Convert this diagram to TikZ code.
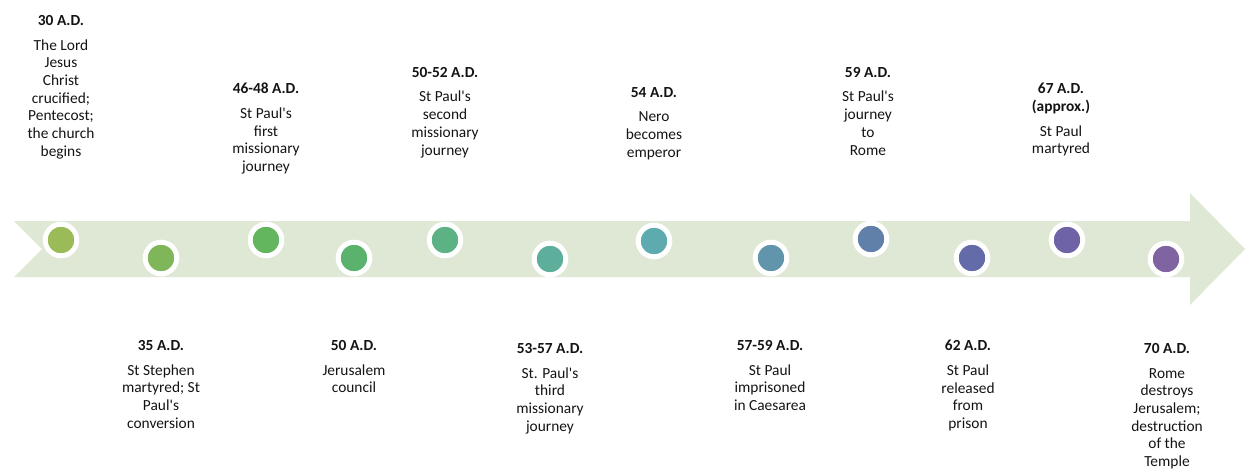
\documentclass[tikz,border=0pt]{standalone}
\usepackage{fontspec}
\setmainfont{Carlito}
\usepackage{tikz}
\usetikzlibrary{shapes}
\definecolor{band}{RGB}{222,232,213}
\definecolor{ink}{RGB}{20,20,20}
\definecolor{cA}{HTML}{9BBB59}
\definecolor{cB}{HTML}{80B65A}
\definecolor{cC}{HTML}{63B55E}
\definecolor{cD}{HTML}{5BB26D}
\definecolor{cE}{HTML}{5CB284}
\definecolor{cF}{HTML}{5DAF9B}
\definecolor{cG}{HTML}{5EABAF}
\definecolor{cH}{HTML}{6095AC}
\definecolor{cI}{HTML}{6180A9}
\definecolor{cJ}{HTML}{636BA8}
\definecolor{cK}{HTML}{6E63A7}
\definecolor{cL}{HTML}{8064A2}
\newcommand\ap{\textquotesingle}
\tikzset{
  dot/.style={circle, draw=white, line width=5pt, minimum size=31.6pt, inner sep=0pt, fill=#1},
  evt/.style={anchor=north, align=center, inner sep=0pt, text=ink,
    font=\fontsize{15.4}{17.7}\selectfont},
}

\begin{document}
\begin{tikzpicture}[x=1pt, y=-1pt]

  \useasboundingbox (0,0) rectangle (1245,471);

  \newcommand\Up{249};
  \newcommand\Lo{340};

  % the band with its arrow head
  \fill[band] (14,221) -- (1190,221) -- (1190,193) -- (1245,\Up) -- (1190,305)
    -- (1190,277) -- (14,277) -- (42,\Up) -- cycle;

  \node[dot=cA] (e1) at (61,240) {};
  \node[dot=cB] (e2) at (161,258) {};
  \node[dot=cC] (e3) at (266,240) {};
  \node[dot=cD] (e4) at (354,258) {};
  \node[dot=cE] (e5) at (445,240) {};
  \node[dot=cF] (e6) at (550,259) {};
  \node[dot=cG] (e7) at (654,241) {};
  \node[dot=cH] (e8) at (771,258) {};
  \node[dot=cI] (e9) at (871,239) {};
  \node[dot=cJ] (e10) at (972,258) {};
  \node[dot=cK] (e11) at (1067,240) {};
  \node[dot=cL] (e12) at (1166,259) {};

  % above the band
  \node[evt] (t1) at (61,15) {\textbf{30 A.D.}\\[7pt] The Lord\\ Jesus\\ Christ\\ crucified;\\ Pentecost;\\ the church\\ begins};
  \node[evt] (t3) at (266,83) {\textbf{46-48 A.D.}\\[7pt] St Paul\ap s\\ first\\ missionary\\ journey};
  \node[evt] (t5) at (445,67) {\textbf{50-52 A.D.}\\[7pt] St Paul\ap s\\ second\\ missionary\\ journey};
  \node[evt] (t7) at (654,87) {\textbf{54 A.D.}\\[7pt] Nero\\ becomes\\ emperor};
  \node[evt] (t9) at (868,67) {\textbf{59 A.D.}\\[7pt] St Paul\ap s\\ journey\\ to\\ Rome};
  \node[evt] (t11) at (1061,83) {\textbf{67 A.D.}\\ \textbf{(approx.)}\\[7pt] St Paul\\ martyred};

  % below the band
  \node[evt] (t2) at (161,\Lo) {\textbf{35 A.D.}\\[7pt] St Stephen\\ martyred; St\\ Paul\ap s\\ conversion};
  \node[evt] (t4) at (354,\Lo) {\textbf{50 A.D.}\\[7pt] Jerusalem\\ council};
  \node[evt] (t6) at (550,343) {\textbf{53-57 A.D.}\\[7pt] St. Paul\ap s\\ third\\ missionary\\ journey};
  \node[evt] (t8) at (770,\Lo) {\textbf{57-59 A.D.}\\[7pt] St Paul\\ imprisoned\\ in Caesarea};
  \node[evt] (t10) at (968,\Lo) {\textbf{62 A.D.}\\[7pt] St Paul\\ released\\ from\\ prison};
  \node[evt] (t12) at (1167,343) {\textbf{70 A.D.}\\[7pt] Rome\\ destroys\\ Jerusalem;\\ destruction\\ of the\\ Temple};

\end{tikzpicture}
\end{document}
